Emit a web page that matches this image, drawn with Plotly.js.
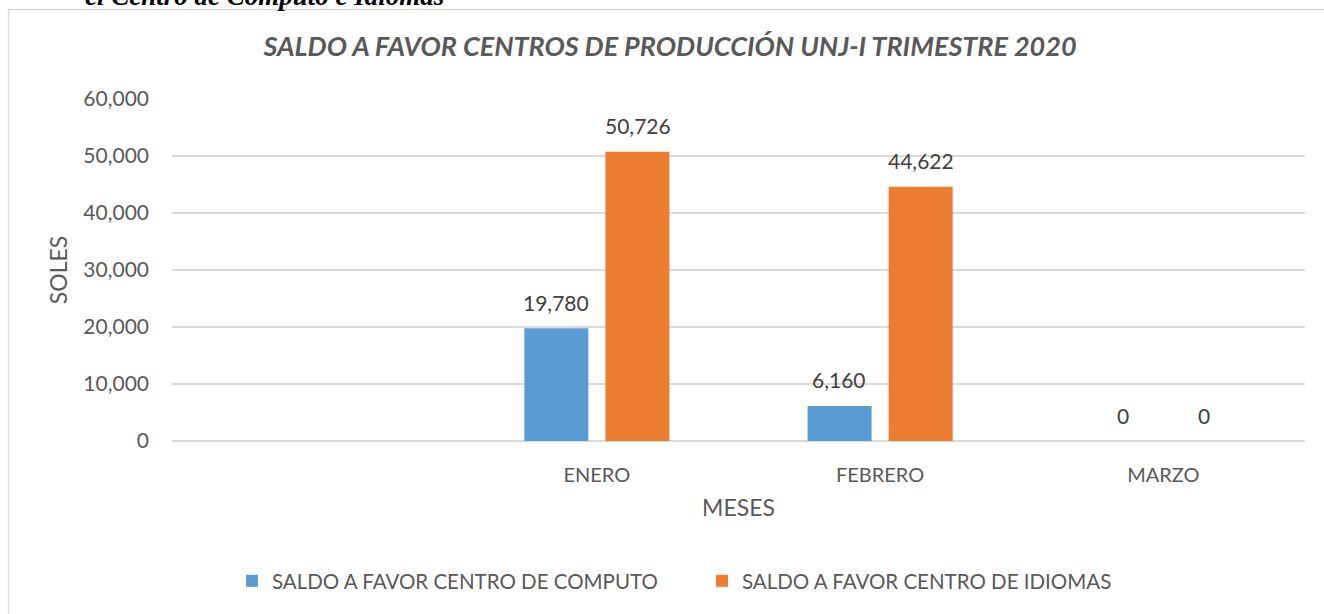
<!DOCTYPE html>
<html>
<head>
<meta charset="utf-8">
<script src="https://cdn.plot.ly/plotly-3.0.1.min.js"></script>
<style>html,body{margin:0;padding:0;background:#fff;}#chart{width:1324px;height:614px;}</style>
</head>
<body>
<div id="chart"></div>
<script>
// Data
const categories = ["", "ENERO", "FEBRERO", "MARZO"];
const seriesNames = ["SALDO A FAVOR CENTRO DE COMPUTO", "SALDO A FAVOR CENTRO DE IDIOMAS"];
const computo = [null, 19780, 6160, 0];
const idiomas = [null, 50726, 44622, 0];
const yTickVals = [0, 10000, 20000, 30000, 40000, 50000, 60000];
const chartTitle = "SALDO A FAVOR CENTROS DE PRODUCCIÓN UNJ-I TRIMESTRE 2020";
const captionText = "el Centro de Computo e Idiomas";

const colors = ["#5B9BD5", "#ED7D31"];
const W = 1324, H = 614;
const M = {l: 172, r: 19, t: 99, b: 173};
const pw = W - M.l - M.r, ph = H - M.t - M.b;
const px2x = p => (p - M.l) / pw;
const py2y = p => (H - M.b - p) / ph;
const FONT = "Lato, 'Open Sans', sans-serif";
const xIdx = categories.map((c, i) => i);
const fmt = v => v.toLocaleString('en-US');

const traces = [computo, idiomas].map((vals, k) => ({
  type: 'bar',
  name: seriesNames[k],
  x: xIdx,
  y: vals,
  marker: {color: colors[k]},
  hoverinfo: 'skip'
}));

// data labels
const barShift = 40.8; // px half-slot offset of each bar in group
const annotations = [];
[computo, idiomas].forEach((vals, k) => {
  vals.forEach((v, i) => {
    if (v === null) return;
    annotations.push({
      x: xIdx[i], y: v, xref: 'x', yref: 'y',
      xshift: (k === 0 ? -1 : 1) * barShift, yshift: 26,
      text: fmt(v), showarrow: false, yanchor: 'middle',
      font: {family: FONT, size: 21, color: '#404040'}
    });
  });
});
annotations.push({
  xref: 'paper', yref: 'paper', x: px2x(83), y: py2y(13), xanchor: 'left', yanchor: 'bottom',
  text: '<b><i>' + captionText + '</i></b>', showarrow: false,
  font: {family: "'Liberation Serif', 'Times New Roman', serif", size: 27, color: '#000'}
});

const layout = {
  width: W, height: H,
  margin: M,
  paper_bgcolor: '#fff', plot_bgcolor: '#fff',
  showlegend: true,
  title: {
    text: '<b><i>' + chartTitle + '</i></b>',
    xref: 'container', yref: 'container', x: 670 / W, y: 1 - 47 / H,
    xanchor: 'center', yanchor: 'middle',
    font: {family: FONT, size: 27, color: '#595959'}
  },
  barmode: 'group', bargap: 0.4276, bargroupgap: 0.21,
  xaxis: {
    range: [-0.5, 3.5], tickvals: xIdx, ticktext: categories,
    showgrid: false, zeroline: false, showline: false, ticks: '',
    ticklabelstandoff: 20,
    tickfont: {family: FONT, size: 20, color: '#595959'},
    title: {text: 'MESES', font: {family: FONT, size: 23, color: '#595959'}, standoff: 14},
    fixedrange: true
  },
  yaxis: {
    range: [0, 60000], tickvals: yTickVals, tickformat: ',d',
    showgrid: true, gridcolor: '#d9d9d9', gridwidth: 1.3,
    zeroline: true, zerolinecolor: '#d9d9d9', zerolinewidth: 1.3,
    showline: false, ticks: '', ticklabelstandoff: 22,
    tickfont: {family: FONT, size: 21, color: '#595959'},
    title: {text: 'SOLES', font: {family: FONT, size: 23, color: '#595959'}, standoff: 9},
    fixedrange: true
  },
  legend: {
    orientation: 'h', xref: 'paper', yref: 'paper',
    x: px2x(232), y: py2y(581), xanchor: 'left', yanchor: 'middle',
    entrywidth: 425, entrywidthmode: 'pixels',
    font: {family: FONT, size: 20.5, color: '#595959'},
    itemclick: false, itemdoubleclick: false, traceorder: 'normal'
  },
  annotations: annotations,
  shapes: [{
    type: 'rect', xref: 'paper', yref: 'paper',
    x0: px2x(8.5), x1: px2x(W + 20), y0: py2y(H + 20), y1: py2y(9.5),
    line: {color: '#d9d9d9', width: 1.3}, fillcolor: 'rgba(0,0,0,0)', layer: 'below'
  }]
};

Plotly.newPlot('chart', traces, layout, {displayModeBar: false, staticPlot: true});
</script>
</body>
</html>
